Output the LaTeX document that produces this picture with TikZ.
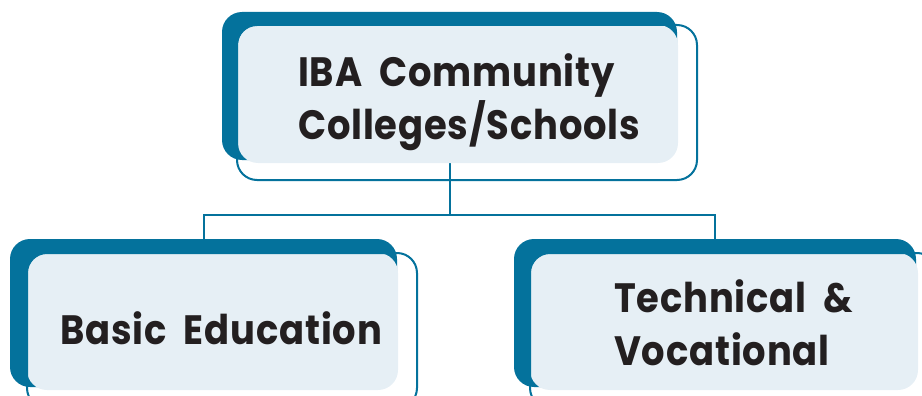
\documentclass[tikz,border=0pt]{standalone}
\usepackage{fontspec}
\setmainfont{Poppins}[FakeStretch=0.9,LetterSpace=2,WordSpace=2]
\definecolor{tealdark}{HTML}{04729C}
\definecolor{boxfill}{HTML}{E6EFF5}
\definecolor{txt}{HTML}{231F20}
\begin{document}
\begin{tikzpicture}[x=1pt,y=-1pt,
  shadowbox/.style={rectangle,rounded corners=20pt,fill=tealdark,inner sep=0pt},
  fillbox/.style={rectangle,rounded corners=20pt,fill=boxfill,inner sep=0pt},
  outlinebox/.style={rectangle,rounded corners=20pt,draw=tealdark,line width=2pt,inner sep=0pt},
  conn/.style={draw=tealdark,line width=2pt},
  label/.style={text=txt,font=\fontsize{41}{53}\selectfont\bfseries,align=left,inner sep=0pt,anchor=west}]
\useasboundingbox (0,0) rectangle (922,396);
% shadows
\node[shadowbox,minimum width=455pt,minimum height=148pt] (tsh) at (449.5,86) {};
\node[shadowbox,minimum width=387pt,minimum height=148pt] (lsh) at (203.5,313) {};
\node[shadowbox,minimum width=402pt,minimum height=148pt] (rsh) at (715,313) {};
% connectors
\draw[conn] (tsh.south) -- ++(0,55) -| (lsh.north);
\draw[conn] (tsh.south) ++(0,55) -| (rsh.north);
% fills
\node[fillbox,minimum width=440pt,minimum height=138pt] (tfill) at (458,94) {};
\node[fillbox,minimum width=371pt,minimum height=137pt] (lfill) at (212.5,321.5) {};
\node[fillbox,minimum width=388pt,minimum height=137pt] (rfill) at (724,321.5) {};
% outlines
\node[outlinebox,minimum width=460pt,minimum height=155pt] (tout) at (467,102.5) {};
\node[outlinebox,minimum width=390pt,minimum height=155pt] (lout) at (222,330.5) {};
\node[outlinebox,minimum width=407pt,minimum height=155pt] (rout) at (733.5,330.5) {};
% texts
\node[label] (ttext) at (298,102) {IBA Community\\Colleges/Schools};
\node[label] (ltext) at (60,328) {Basic Education};
\node[label] (rtext) at (614,323) {Technical \&\\Vocational};
\end{tikzpicture}
\end{document}
